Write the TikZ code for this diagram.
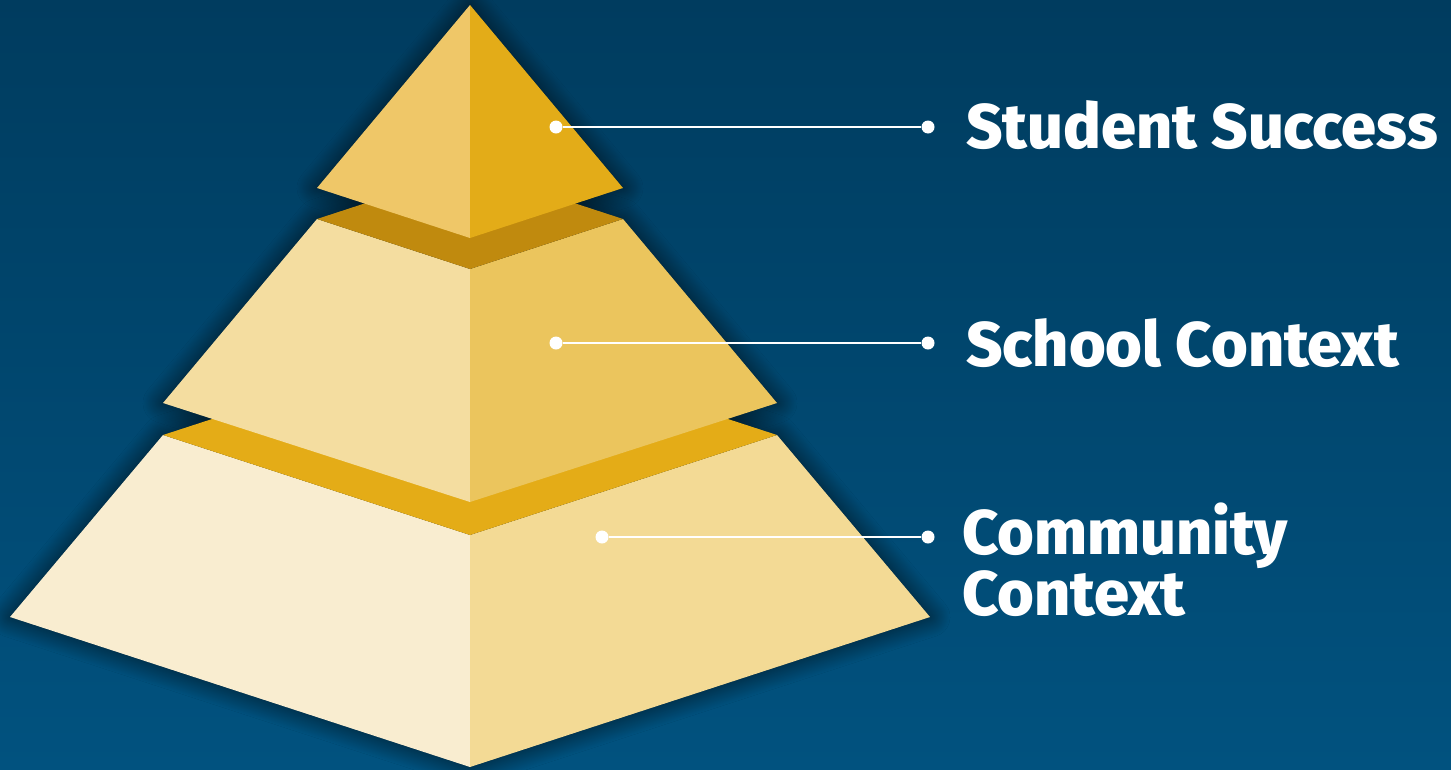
\documentclass[tikz,border=0pt]{standalone}
\usepackage{fontspec}
\newfontfamily\labelfont{Fira Sans ExtraBold}
\usetikzlibrary{shadows.blur}
\definecolor{bgtop}{HTML}{003C5F}
\definecolor{bgbot}{HTML}{01527F}
\definecolor{topL}{HTML}{EFC768}
\definecolor{topR}{HTML}{E3AC18}
\definecolor{darkband}{HTML}{C08A0E}
\definecolor{midL}{HTML}{F4DDA0}
\definecolor{midR}{HTML}{EBC55D}
\definecolor{band}{HTML}{E4AC17}
\definecolor{botL}{HTML}{F9EDD0}
\definecolor{botR}{HTML}{F3DA95}
\begin{document}
\begin{tikzpicture}[x=1pt,y=-1pt,
  tiershadow/.style={blur shadow={shadow xshift=0pt, shadow yshift=0pt, shadow blur radius=20pt, shadow opacity=70, shadow blur steps=24}},
  dot/.style={circle, fill=white, inner sep=0pt, minimum size=13pt},
  leader/.style={draw=white, line width=2pt},
  tierlabel/.style={text=white, font=\labelfont\fontsize{63}{57}\selectfont, anchor=base west, align=left, inner sep=0pt}]
% background
\shade[top color=bgtop, bottom color=bgbot] (0,0) rectangle (1451,769);
\useasboundingbox (0,0) rectangle (1451,769);
% shadows
\path[tiershadow] (163,435) -- (470,335) -- (777,435) -- (930,617) -- (470,767) -- (10,617) -- cycle;
\path[tiershadow] (317,219) -- (470,169) -- (623,219) -- (777,403) -- (470,502) -- (163,403) -- cycle;
\path[tiershadow] (470,5) -- (623,188) -- (470,238) -- (317,188) -- cycle;
% bottom tier
\fill[botL] (163,435) -- (470,535) -- (470,767) -- (10,617) -- cycle;
\fill[botR] (777,435) -- (470,535) -- (470,767) -- (930,617) -- cycle;
\fill[band] (163,435) -- (470,335) -- (777,435) -- (470,535) -- cycle;
% middle tier
\fill[midL] (317,219) -- (470,269) -- (470,502) -- (163,403) -- cycle;
\fill[midR] (623,219) -- (470,269) -- (470,502) -- (777,403) -- cycle;
\fill[darkband] (317,219) -- (470,169) -- (623,219) -- (470,269) -- cycle;
% top tier
\fill[topL] (470,5) -- (470,238) -- (317,188) -- cycle;
\fill[topR] (470,5) -- (470,238) -- (623,188) -- cycle;
% dots and leaders
\node[dot] (s1) at (556,127) {};
\node[dot] (e1) at (928,127) {};
\node[dot] (s2) at (556,343) {};
\node[dot] (e2) at (928,343) {};
\node[dot] (s3) at (602,537) {};
\node[dot] (e3) at (928,537) {};
\draw[leader] (s1) -- (e1);
\draw[leader] (s2) -- (e2);
\draw[leader] (s3) -- (e3);
% labels
\node[tierlabel] (l1) at (966,148) {Student Success};
\node[tierlabel] (l2) at (966,366) {School Context};
\node[tierlabel] (l3) at (962,615) {Community\\Context};
\end{tikzpicture}
\end{document}
